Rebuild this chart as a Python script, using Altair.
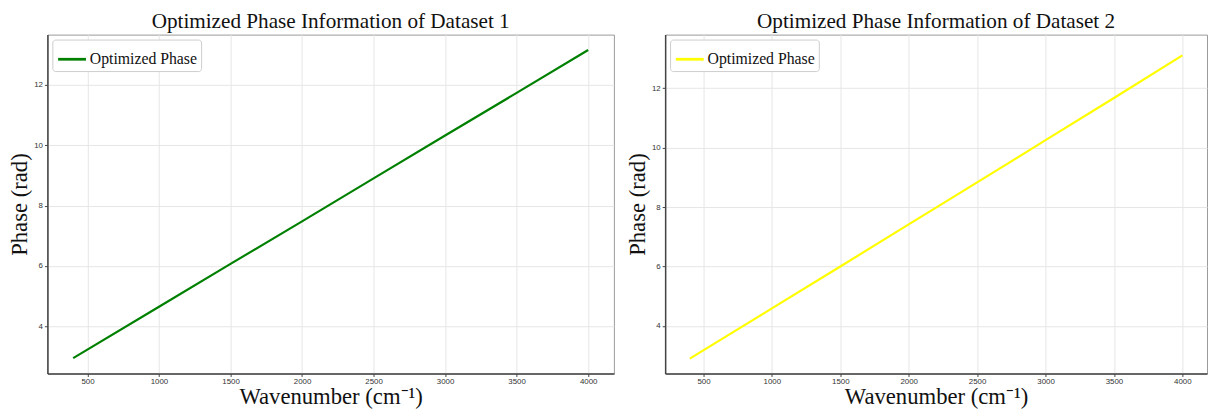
import altair as alt
import pandas as pd

wavenumber = [400, 1000, 1500, 2000, 2500, 3000, 3500, 4000]
phase_ds1 = [2.95, 4.65, 6.07, 7.48, 8.90, 10.32, 11.73, 13.15]
phase_ds2 = [2.90, 4.59, 6.00, 7.42, 8.83, 10.25, 11.67, 13.10]
series_name = ["Optimized Phase"] * len(wavenumber)
x_ticks = [500, 1000, 1500, 2000, 2500, 3000, 3500, 4000]
y_ticks = [4, 6, 8, 10, 12]

SERIF = "Liberation Serif"


def panel(values, color, title, width, height, ydom):
    df = pd.DataFrame({"wn": wavenumber, "phase": values, "s": series_name})
    return (
        alt.Chart(df)
        .mark_line(strokeWidth=2.2, clip=True)
        .encode(
            x=alt.X(
                "wn:Q",
                scale=alt.Scale(domain=[220, 4180], nice=False, zero=False),
                axis=alt.Axis(values=x_ticks, format="d", title="Wavenumber (cm⁻¹)"),
            ),
            y=alt.Y(
                "phase:Q",
                scale=alt.Scale(domain=ydom, nice=False, zero=False),
                axis=alt.Axis(values=y_ticks, format="d", title="Phase (rad)"),
            ),
            color=alt.Color(
                "s:N",
                scale=alt.Scale(range=[color]),
                legend=alt.Legend(title=None),
            ),
        )
        .properties(
            width=width,
            height=height,
            title=alt.TitleParams(title, offset=2),
        )
    )


left = panel(phase_ds1, "#008000", "Optimized Phase Information of Dataset 1", 575, 344, [2.44, 13.66])
right = panel(phase_ds2, "#FFFF00", "Optimized Phase Information of Dataset 2", 550, 344, [2.40, 13.80])

chart = (
    alt.hconcat(left, right, spacing=11)
    .resolve_scale(color="independent")
    .properties(padding={"left": 0, "top": 0, "right": 0, "bottom": 0}, background="white")
    .configure_view(stroke="#999999", strokeWidth=1)
    .configure_title(font=SERIF, fontSize=21.5, fontWeight="normal", color="#111111", anchor="middle")
    .configure_axis(
        grid=True,
        gridColor="#e6e6e6",
        gridWidth=1,
        domainColor="#444444",
        domainWidth=1.5,
        tickColor="#444444",
        tickSize=3,
        labelFont="Liberation Sans",
        labelFontSize=8,
        labelColor="#333333",
        titleFont=SERIF,
        titleFontSize=23,
        titleFontWeight="normal",
        titleColor="#111111",
    )
    .configure_axisX(labelPadding=1, titlePadding=0)
    .configure_axisY(labelPadding=2, titlePadding=2)
    .configure_legend(
        orient="top-left",
        offset=5,
        fillColor="white",
        strokeColor="#cccccc",
        cornerRadius=3,
        padding=4,
        labelFont=SERIF,
        labelFontSize=16,
        labelColor="#111111",
        symbolType="stroke",
        symbolStrokeWidth=2.8,
        symbolSize=800,
        labelOffset=2,
    )
)

chart.save("out.html", embed_options={"renderer": "svg", "actions": False})
